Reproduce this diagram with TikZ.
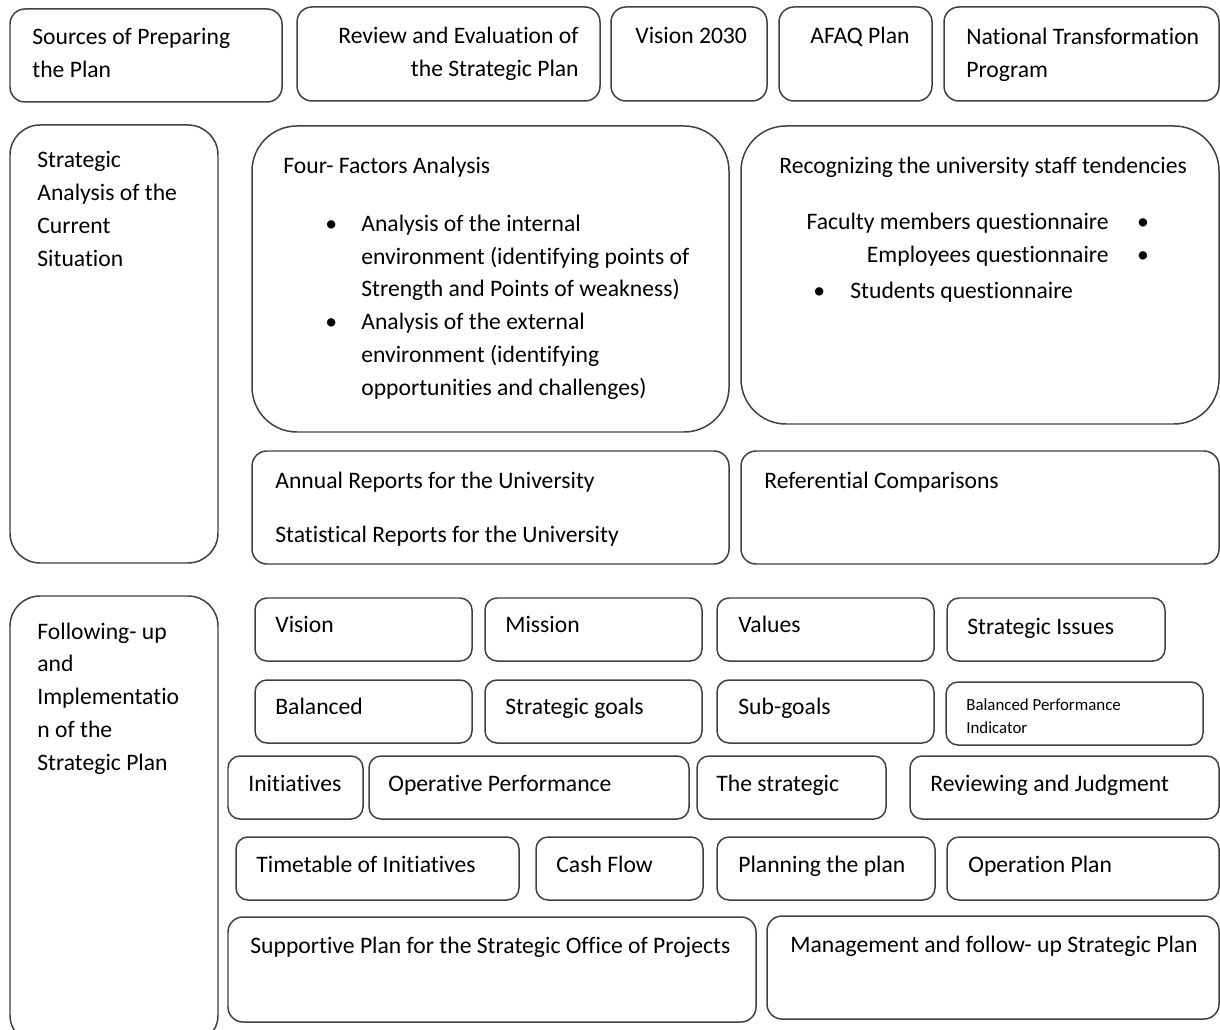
\documentclass[tikz,border=0pt]{standalone}
\usepackage{fontspec}
\setmainfont[Ligatures=NoCommon]{Carlito}
\usetikzlibrary{fit}

\begin{document}
\begin{tikzpicture}[
  x=0.02cm, y=-0.02cm,
  font=\fontsize{13.45}{18.7}\selectfont,
  box/.style={draw=black!75, line width=0.85pt, rounded corners=0.24cm, inner sep=0pt},
  topbox/.style={box, rounded corners=0.3cm},
  sidebox/.style={box, rounded corners=0.6cm},
  bigbox/.style={box, rounded corners=0.9cm},
  txt/.style={anchor=base west, inner sep=0pt, align=left},
  small/.style={txt, font=\fontsize{9.6}{13}\selectfont},
]
\clip (0,0) rectangle (1220,1030);

% Top row — sources of the plan (multi-line texts sit on their last baseline)
\node[topbox, fit={(10,9) (282,102)}] (src) {};
\node[topbox, fit={(297,7) (600,101)}] (rev) {};
\node[topbox, fit={(611,7) (767,101)}] (vis30) {};
\node[topbox, fit={(779,7) (932,101)}] (afaq) {};
\node[topbox, fit={(944,7) (1219,101)}] (ntp) {};
\node[txt] (srct) at (32,77.5) {Sources of Preparing\\the Plan};
\node[txt, anchor=base east, align=right] (revt) at (579,76.5) {Review and Evaluation of\\the Strategic Plan};
\node[txt] (vis30t) at (635,43.5) {Vision 2030};
\node[txt] (afaqt) at (810,43.5) {AFAQ Plan};
\node[txt] (ntpt) at (966,77.5) {National Transformation\\Program};

% Strategic analysis of the current situation
\node[sidebox, fit={(10,125) (218,563)}] (sa) {};
\node[txt] (sat) at (37,266.5) {Strategic\\Analysis of the\\Current\\Situation};

\node[bigbox, fit={(252,126) (729,432)}] (ffa) {};
\node[txt] (ffat) at (283,173.5) {Four- Factors Analysis};
\node[txt] (ffal) at (325,395.5) {%
  \makebox[0.72cm][l]{\textbullet}Analysis of the internal\\
  \hspace{0.72cm}environment (identifying points of\\
  \hspace{0.72cm}Strength and Points of weakness)\\
  \makebox[0.72cm][l]{\textbullet}Analysis of the external\\
  \hspace{0.72cm}environment (identifying\\
  \hspace{0.72cm}opportunities and challenges)};

\node[bigbox, fit={(741,126) (1219,424)}] (rec) {};
\node[txt] (rect) at (779,173.5) {Recognizing the university staff tendencies};
\node[txt, anchor=base east, align=right] (recq) at (1109,262.5) {Faculty members questionnaire\\Employees questionnaire};
\node[txt, anchor=base] (recb) at (1143,262.5) {\textbullet\\\textbullet};
\node[txt] (recs) at (813,298.5) {\makebox[0.74cm][l]{\textbullet}Students questionnaire};

\node[box, rounded corners=0.3cm, fit={(252,451) (729,564)}] (rep) {};
\node[txt] (annt) at (275,488.5) {Annual Reports for the University};
\node[txt] (statt) at (275,542.5) {Statistical Reports for the University};
\node[box, rounded corners=0.3cm, fit={(741,451) (1219,564)}] (refc) {};
\node[txt] (refct) at (764,488.5) {Referential Comparisons};

% Following-up and implementation
\node[sidebox, fit={(10,596) (218,1045)}] (fu) {};
\node[txt] (fut) at (37,770.5) {Following- up\\and\\Implementatio\\n of the\\Strategic Plan};

\node[box, fit={(255,598) (472,661)}] (vis) {};
\node[box, fit={(485,598) (702,661)}] (mis) {};
\node[box, fit={(717,598) (934,661)}] (val) {};
\node[box, fit={(947,598) (1165,661)}] (iss) {};
\node[txt] (vist) at (275,632.5) {Vision};
\node[txt] (mist) at (505,632.5) {Mission};
\node[txt] (valt) at (738,632.5) {Values};
\node[txt] (isst) at (967,634.5) {Strategic Issues};

\node[box, fit={(255,680) (472,743)}] (bal) {};
\node[box, fit={(485,680) (702,743)}] (sg) {};
\node[box, fit={(717,680) (934,743)}] (sub) {};
\node[box, fit={(946,682) (1203,745)}] (bpi) {};
\node[txt] (balt) at (275,714.5) {Balanced};
\node[txt] (sgt) at (505,714.5) {Strategic goals};
\node[txt] (subt) at (738,714.5) {Sub-goals};
\node[small] (bpit) at (966,733.5) {Balanced Performance\\Indicator};

\node[box, fit={(228,756) (363,819)}] (ini) {};
\node[box, fit={(369,756) (689,819)}] (op) {};
\node[box, fit={(697,756) (886,819)}] (ts) {};
\node[box, fit={(910,756) (1219,819)}] (rj) {};
\node[txt] (init) at (248,791.5) {Initiatives};
\node[txt] (opt) at (388,791.5) {Operative Performance};
\node[txt] (tst) at (716,791.5) {The strategic};
\node[txt] (rjt) at (930,791.5) {Reviewing and Judgment};

\node[box, fit={(236,837) (519,900)}] (tt) {};
\node[box, fit={(536,837) (703,900)}] (cf) {};
\node[box, fit={(717,837) (935,900)}] (pp) {};
\node[box, fit={(947,837) (1219,900)}] (opl) {};
\node[txt] (ttt) at (256,872.5) {Timetable of Initiatives};
\node[txt] (cft) at (556,872.5) {Cash Flow};
\node[txt] (ppt) at (738,872.5) {Planning the plan};
\node[txt] (oplt) at (968,872.5) {Operation Plan};

\node[box, rounded corners=0.3cm, fit={(228,917) (756,1022)}] (sup) {};
\node[box, rounded corners=0.3cm, fit={(767,916) (1219,1019)}] (man) {};
\node[txt] (supt) at (250,953.5) {Supportive Plan for the Strategic Office of Projects};
\node[txt] (mant) at (790,952.5) {Management and follow- up Strategic Plan};
\end{tikzpicture}
\end{document}
